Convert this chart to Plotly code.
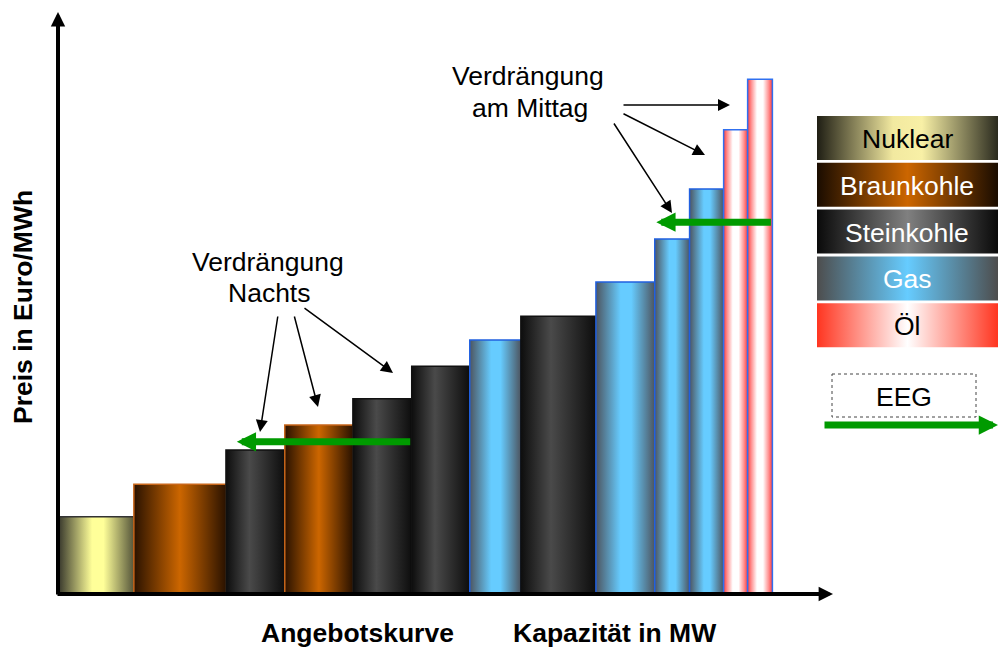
import plotly.graph_objects as go

# Merit order: one block per power plant group, width = capacity, height = price
fuels = ["Nuklear", "Braunkohle", "Steinkohle", "Braunkohle", "Steinkohle",
         "Steinkohle", "Gas", "Steinkohle", "Gas", "Gas", "Gas", "Öl", "Öl"]
capacity = [9.8, 11.9, 7.6, 8.8, 7.6, 7.5, 6.6, 9.7, 7.6, 4.5, 4.4, 3.1, 3.2]
price = [13.3, 18.9, 24.8, 29.1, 33.6, 39.2, 43.7, 47.8, 53.7, 61.1, 69.7, 79.9, 88.6]

legend_labels = ["Nuklear", "Braunkohle", "Steinkohle", "Gas", "Öl"]

# EEG feed-in pushes the supply curve to the left (night / midday)
eeg_night_level, eeg_night_to = 26.2, 23.1
eeg_noon_level, eeg_noon_to = 64.0, 77.3

FONT = "Liberation Sans, Arial, sans-serif"
FS = 26.5
GREEN = "#009a00"
W, H = 999, 648

bar_style = {
    "Nuklear": dict(scale=[[0, "#34342a"], [0.45, "#ffff99"], [0.6, "#ffff99"], [1, "#55553a"]], line="#333333"),
    "Braunkohle": dict(scale=[[0, "#2a1200"], [0.5, "#cc6600"], [1, "#2a1200"]], line="#c8661a"),
    "Steinkohle": dict(scale=[[0, "#0d0d0d"], [0.4, "#4a4a4a"], [1, "#0d0d0d"]], line="#111111"),
    "Gas": dict(scale=[[0, "#4d5560"], [0.42, "#66ccff"], [0.6, "#66ccff"], [1, "#4d5560"]], line="#2060e0"),
    "Öl": dict(scale=[[0, "#ff3b3b"], [0.15, "#ff9090"], [0.38, "#ffffff"], [0.62, "#ffffff"],
                      [0.85, "#ff9090"], [1, "#ff3b3b"]], line="#3070f0"),
}
legend_style = {
    "Nuklear": dict(scale=[[0, "#1f1e14"], [0.42, "#f2e9a0"], [0.58, "#f8f0a6"], [1, "#2a2a1e"]], text="black"),
    "Braunkohle": dict(scale=[[0, "#1a0c00"], [0.5, "#cc6600"], [1, "#1a0c00"]], text="white"),
    "Steinkohle": dict(scale=[[0, "#0a0a0a"], [0.5, "#808080"], [1, "#0a0a0a"]], text="white"),
    "Gas": dict(scale=[[0, "#4d4d4d"], [0.5, "#66ccff"], [1, "#4d4d4d"]], text="white"),
    "Öl": dict(scale=[[0, "#ff3520"], [0.5, "#ffffff"], [1, "#ff3520"]], text="black"),
}

fig = go.Figure()

# supply curve blocks
left = 0.0
edges = []
for fuel, cap, p in zip(fuels, capacity, price):
    right = left + cap
    st = bar_style[fuel]
    fig.add_trace(go.Scatter(
        x=[left, left, right, right, left], y=[0, p, p, 0, 0],
        mode="lines", fill="toself",
        fillgradient=dict(type="horizontal", colorscale=st["scale"]),
        line=dict(color=st["line"], width=1.5),
        hoverinfo="skip", showlegend=False, xaxis="x", yaxis="y",
    ))
    edges.append(right)
    left = right

# legend blocks on an overlay axis measured in figure pixels
leg_x0, leg_x1, leg_top, leg_h, leg_pitch = 817, 998, 116, 44, 46.8
annotations = []
for i, name in enumerate(legend_labels):
    top = leg_top + i * leg_pitch
    st = legend_style[name]
    fig.add_trace(go.Scatter(
        x=[leg_x0, leg_x0, leg_x1, leg_x1, leg_x0], y=[top, top + leg_h, top + leg_h, top, top],
        mode="lines", fill="toself",
        fillgradient=dict(type="horizontal", colorscale=st["scale"]),
        line=dict(width=0), hoverinfo="skip", showlegend=False,
        xaxis="x2", yaxis="y2",
    ))
    annotations.append(dict(
        x=907, y=top + leg_h / 2 + 1, xref="x2", yref="y2", text=name, showarrow=False,
        font=dict(family=FONT, size=FS, color=st["text"]),
    ))

# EEG legend entry
fig.add_shape(type="rect", x0=832, x1=976, y0=374, y1=417, xref="x2", yref="y2",
              line=dict(color="#444444", width=1, dash="dot"), fillcolor="rgba(0,0,0,0)")
annotations.append(dict(x=904, y=397, xref="x2", yref="y2", text="EEG", showarrow=False,
                        font=dict(family=FONT, size=FS, color="black")))
annotations.append(dict(x=998, y=425, ax=823, ay=425, xref="x2", yref="y2", axref="x2", ayref="y2",
                        text="", showarrow=True, arrowhead=2, arrowsize=0.55, arrowwidth=7,
                        arrowcolor=GREEN))

# axes drawn as arrows
for (x, y, ax, ay) in [(58, 12, 58, 596), (833, 594, 56, 594)]:
    annotations.append(dict(x=x, y=y, ax=ax, ay=ay, xref="x2", yref="y2", axref="x2", ayref="y2",
                            text="", showarrow=True, arrowhead=2, arrowsize=0.72, arrowwidth=4,
                            arrowcolor="black"))

# EEG displacement arrows on the supply curve
annotations.append(dict(x=eeg_night_to, y=eeg_night_level, ax=edges[4], ay=eeg_night_level,
                        xref="x", yref="y", axref="x", ayref="y", text="", showarrow=True,
                        arrowhead=2, arrowsize=0.55, arrowwidth=7, arrowcolor=GREEN))
annotations.append(dict(x=eeg_noon_to, y=eeg_noon_level, ax=edges[-1], ay=eeg_noon_level,
                        xref="x", yref="y", axref="x", ayref="y", text="", showarrow=True,
                        arrowhead=2, arrowsize=0.55, arrowwidth=7, arrowcolor=GREEN))

# callout texts
for txt, x, y in [("Verdrängung", 268, 262), ("Nachts", 269, 293),
                  ("Verdrängung", 528, 76), ("am Mittag", 530, 108)]:
    annotations.append(dict(x=x, y=y, xref="x2", yref="y2", text=txt, showarrow=False,
                            font=dict(family=FONT, size=FS, color="black")))

# callout pointers
pointers = [
    ((278, 315), (260, 432)), ((294, 315), (318, 407)), ((303, 307), (393, 373)),
    ((622, 105), (730, 105)), ((622, 113), (705, 155)), ((613, 122), (672, 213)),
]
for (ax, ay), (x, y) in pointers:
    annotations.append(dict(x=x, y=y, ax=ax, ay=ay, xref="x2", yref="y2", axref="x2", ayref="y2",
                            text="", showarrow=True, arrowhead=2, arrowsize=1.6, arrowwidth=1.5,
                            arrowcolor="black"))

# axis labels
annotations.append(dict(x=23, y=307, xref="x2", yref="y2", text="<b>Preis in Euro/MWh</b>",
                        textangle=-90, showarrow=False, font=dict(family=FONT, size=FS, color="black")))
annotations.append(dict(x=357, y=633, xref="x2", yref="y2", text="<b>Angebotskurve</b>",
                        showarrow=False, font=dict(family=FONT, size=FS, color="black")))
annotations.append(dict(x=614, y=633, xref="x2", yref="y2", text="<b>Kapazität in MW</b>",
                        showarrow=False, font=dict(family=FONT, size=FS, color="black")))

hidden = dict(visible=False, showgrid=False, zeroline=False, fixedrange=True)
fig.update_layout(
    width=W, height=H,
    margin=dict(l=0, r=0, t=0, b=0),
    paper_bgcolor="white", plot_bgcolor="rgba(0,0,0,0)",
    # main chart area: x from 58 px to 832 px, y from 594 px up to 13 px
    xaxis=dict(domain=[58 / W, 832 / W], range=[0, 100], **hidden),
    yaxis=dict(domain=[(H - 594) / H, (H - 13) / H], range=[0, 100], **hidden),
    # overlay axis in figure pixels for legend, callouts and axis arrows
    xaxis2=dict(domain=[0, 1], range=[0, W], anchor="y2", **hidden),
    yaxis2=dict(domain=[0, 1], range=[H, 0], anchor="x2", **hidden),
    annotations=annotations,
    showlegend=False,
)

fig.write_html("out.html")
